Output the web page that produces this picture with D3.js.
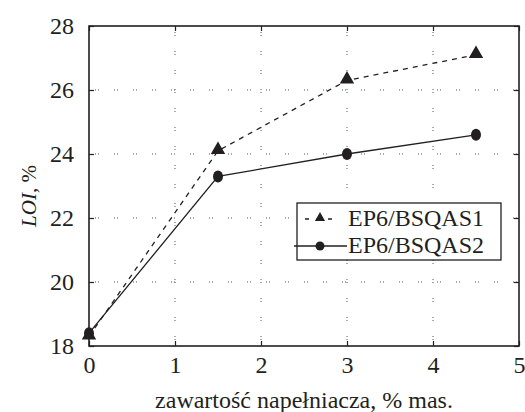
<!DOCTYPE html>
<html><head><meta charset="utf-8">
<script src="https://cdn.jsdelivr.net/npm/d3@7"></script>
<style>body{margin:0;background:#fff}svg{display:block}</style>
</head><body><svg id="c" width="525" height="412"></svg>
<script>
const xValues = [0, 1.5, 3, 4.5];
const series1 = [18.3, 24.1, 26.3, 27.1]; // EP6/BSQAS1
const series2 = [18.4, 23.3, 24.0, 24.6]; // EP6/BSQAS2
const seriesNames = ["EP6/BSQAS1", "EP6/BSQAS2"];
const xTicks = [0, 1, 2, 3, 4, 5];
const yTicks = [18, 20, 22, 24, 26, 28];
const xLabel = "zawartość napełniacza, % mas.";

const FONT = '"Liberation Serif"';
const svg = d3.select("#c");
const L = 89, R = 519, T = 26, B = 346;
const x = d3.scaleLinear().domain([0, 5]).range([L, R]);
const y = d3.scaleLinear().domain([18, 28]).range([B, T]);
const ink = "#231f20";

// grid
const g = svg.append("g");
g.selectAll(".gx").data(xTicks.slice(1, -1)).enter().append("line")
  .attr("x1", d => x(d)).attr("x2", d => x(d)).attr("y1", T + 6).attr("y2", B)
  .attr("stroke", "#555").attr("stroke-width", 1).attr("stroke-dasharray", "1,2,1,15");
g.selectAll(".gy").data(yTicks.slice(1, -1)).enter().append("line")
  .attr("y1", d => y(d)).attr("y2", d => y(d)).attr("x1", L + 6).attr("x2", R)
  .attr("stroke", "#555").attr("stroke-width", 1).attr("stroke-dasharray", "1,2,1,15");

// axes
const ax = svg.append("g").attr("transform", `translate(0,${B})`)
  .call(d3.axisBottom(x).tickValues(xTicks).tickSize(-5).tickPadding(10).tickFormat(d3.format("d")));
const axT = svg.append("g").attr("transform", `translate(0,${T})`)
  .call(d3.axisTop(x).tickValues(xTicks).tickSize(-5).tickFormat(""));
const ay = svg.append("g").attr("transform", `translate(${L},0)`)
  .call(d3.axisLeft(y).tickValues(yTicks).tickSize(-5).tickPadding(15).tickFormat(d3.format("d")));
const ayR = svg.append("g").attr("transform", `translate(${R},0)`)
  .call(d3.axisRight(y).tickValues(yTicks).tickSize(-5).tickFormat(""));
[ax, axT, ay, ayR].forEach(a => {
  a.attr("font-family", "Liberation Serif").attr("font-size", 24);
  a.select(".domain").remove();
  a.selectAll("line").attr("stroke", ink).attr("stroke-width", 1.2);
  a.selectAll("text").attr("font-size", 24).attr("fill", ink).style("font-family", FONT);
});
ax.selectAll("text").attr("dy", "0.71em");
svg.append("rect").attr("x", L).attr("y", T).attr("width", R - L).attr("height", B - T)
  .attr("fill", "none").attr("stroke", ink).attr("stroke-width", 1.6);

// lines
const pts1 = xValues.map((v, i) => [v, series1[i]]);
const pts2 = xValues.map((v, i) => [v, series2[i]]);
const line = d3.line().x(d => x(d[0])).y(d => y(d[1]));
svg.append("path").attr("d", line(pts1)).attr("fill", "none").attr("stroke", ink)
  .attr("stroke-width", 1.3).attr("stroke-dasharray", "5,5");
svg.append("path").attr("d", line(pts2)).attr("fill", "none").attr("stroke", ink).attr("stroke-width", 1.3);

const tri = d3.symbol().type(d3.symbolTriangle).size(90);
svg.selectAll(".t").data(pts1).enter().append("path").attr("d", tri)
  .attr("transform", d => `translate(${x(d[0])},${y(d[1]) - 1})`).attr("fill", ink);
svg.selectAll(".c").data(pts2).enter().append("ellipse")
  .attr("cx", d => x(d[0])).attr("cy", d => y(d[1])).attr("rx", 5).attr("ry", 6).attr("fill", ink);

// legend
const lg = svg.append("g");
lg.append("rect").attr("x", 297).attr("y", 203).attr("width", 204).attr("height", 57)
  .attr("fill", "#fff").attr("stroke", ink).attr("stroke-width", 1.3);
lg.append("line").attr("x1", 305).attr("x2", 336).attr("y1", 219).attr("y2", 219)
  .attr("stroke", ink).attr("stroke-width", 1.3).attr("stroke-dasharray", "4,7.5");
lg.append("path").attr("d", d3.symbol().type(d3.symbolTriangle).size(45)).attr("transform", "translate(320,218)").attr("fill", ink);
lg.append("line").attr("x1", 294).attr("x2", 347).attr("y1", 246).attr("y2", 246)
  .attr("stroke", ink).attr("stroke-width", 1.3);
lg.append("circle").attr("cx", 320).attr("cy", 246).attr("r", 4.5).attr("fill", ink);
lg.selectAll(".lt").data(seriesNames).enter().append("text")
  .attr("x", 348).attr("y", (d, i) => 226 + i * 27).attr("font-size", 24)
  .attr("fill", ink).style("font-family", FONT).text(d => d);

// axis labels
svg.append("text").attr("x", 304).attr("y", 408).attr("text-anchor", "middle")
  .attr("font-size", 24).attr("fill", ink).style("font-family", FONT).text(xLabel);
const yl = svg.append("text").attr("transform", "translate(36,196) rotate(-90)").attr("text-anchor", "middle")
  .attr("font-size", 21).attr("fill", ink).style("font-family", FONT);
yl.append("tspan").attr("font-style", "italic").text("LOI");
yl.append("tspan").text(", %");
</script></body></html>
